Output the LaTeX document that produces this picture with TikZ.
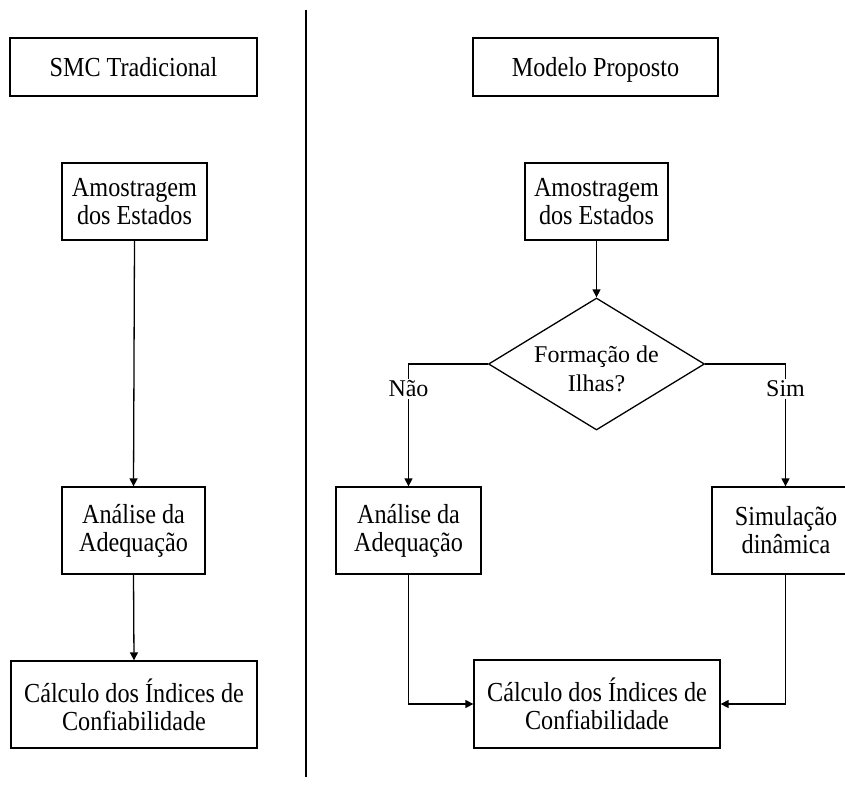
\documentclass[tikz,border=0pt]{standalone}
\usepackage{fontspec}
\setmainfont{Liberation Serif}
\newfontfamily\boxfont{Liberation Serif}[FakeStretch=0.88]
\newcommand\myboxfont{\boxfont\fontsize{27.5}{28}\selectfont\setlength{\lineskiplimit}{-20pt}}
\usetikzlibrary{arrows.meta,shapes.geometric}
\begin{document}
\begin{tikzpicture}[x=1pt,y=-1pt,
  box/.style={draw,line width=1.3pt,align=center,inner sep=0pt,font=\myboxfont},
  one/.style={text depth=0pt},
  dec/.style={draw,diamond,line width=1.3pt,inner sep=0pt,aspect=1.636,minimum width=216pt,minimum height=132pt},
  dtext/.style={align=center,inner sep=0pt,font=\fontsize{24}{29}\selectfont},
  lbl/.style={inner sep=1.5pt,font=\fontsize{24}{28}\selectfont},
  conn/.style={line width=1.3pt},
  arr/.style={line width=1.3pt,-{Triangle[length=8pt,width=8pt]}}]
\useasboundingbox (0,0) rectangle (845,787);
% divider
\coordinate (dtop) at (306,10);
\coordinate (dbot) at (306,777);
\draw[line width=1.4pt] (dtop) -- (dbot);
% left column
\node[box,one,minimum width=247pt,minimum height=58pt] (smc) at (133.5,67) {SMC Tradicional};
\node[box,minimum width=145pt,minimum height=77pt] (la1) at (134.5,201.5) {Amostragem\\dos Estados};
\node[box,minimum width=143pt,minimum height=87pt] (la2) at (133.5,530.5) {Análise da\\Adequação};
\node[box,minimum width=246pt,minimum height=87pt] (lc) at (134,704.5) {Cálculo dos Índices de\\Confiabilidade};
\draw[arr] (la1.south) -- (la2.north);
\draw[arr] (la2.south) -- (lc.north);
% right column
\node[box,one,minimum width=245pt,minimum height=58pt] (mp) at (595.5,67) {Modelo Proposto};
\node[box,minimum width=143pt,minimum height=77pt] (ra1) at (596.5,201.5) {Amostragem\\dos Estados};
\node[dec] (d) at (596.5,364) {};
\node[dtext] (dt) at (596.5,369) {Formação de\\Ilhas?};
\node[lbl] (nao) at (408.5,389) {Não};
\node[lbl] (sim) at (785.5,389) {Sim};
\node[box,minimum width=145pt,minimum height=87pt] (ra2) at (408.5,530.5) {Análise da\\Adequação};
\node[box,minimum width=148pt,minimum height=87pt] (sd) at (786,530.5) {Simulação\\dinâmica};
\node[box,minimum width=246pt,minimum height=88pt] (rc) at (597,704) {Cálculo dos Índices de\\Confiabilidade};
\draw[arr] (ra1.south) -- (d.north);
\draw[conn] (d.west) -| (nao.north);
\draw[arr] (nao.south) -- (ra2.north);
\draw[conn] (d.east) -| (sim.north);
\draw[arr] (sim.south) -- (sim.south |- sd.north);
\draw[arr] (ra2.south) |- (rc.west);
\draw[arr] (sim.south |- sd.south) |- (rc.east);
\end{tikzpicture}
\end{document}
